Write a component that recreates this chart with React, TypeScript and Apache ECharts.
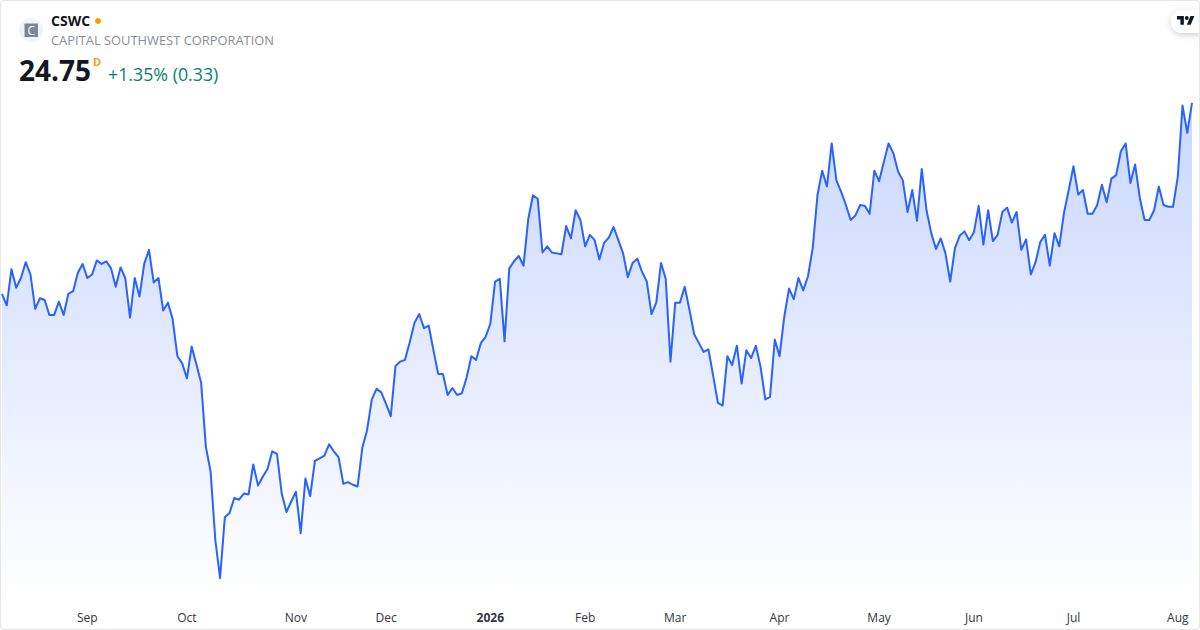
import React, { useEffect, useRef } from "react";
import * as echarts from "echarts";

const pricesAugToNov = [
  22.58, 22.45, 22.86, 22.65, 22.76, 22.94, 22.80, 22.41, 22.53, 22.51, 22.34, 22.34, 22.49, 22.34, 22.58, 22.61,
  22.82, 22.92, 22.76, 22.80, 22.96, 22.92, 22.95, 22.87, 22.66, 22.88, 22.76, 22.31, 22.76, 22.55, 22.92, 23.08,
  22.71, 22.76, 22.39, 22.48, 22.29, 21.87, 21.79, 21.62, 21.98, 21.78, 21.57, 20.84, 20.56, 19.78, 19.35, 20.04,
  20.09, 20.26, 20.24, 20.31, 20.30, 20.64, 20.40, 20.50, 20.59, 20.79, 20.76, 20.31, 20.10, 20.22, 20.33, 19.86,
];
const pricesNovToFeb = [
  20.48, 20.28, 20.68, 20.71, 20.74, 20.87, 20.79, 20.72, 20.42, 20.44, 20.41, 20.39, 20.83, 21.03, 21.38, 21.50,
  21.46, 21.33, 21.19, 21.76, 21.81, 21.83, 22.03, 22.25, 22.35, 22.19, 22.22, 21.94, 21.67, 21.67, 21.43, 21.51,
  21.43, 21.45, 21.63, 21.87, 21.83, 22.02, 22.09, 22.24, 22.72, 22.75, 22.04, 22.87, 22.95, 23.01, 22.90, 23.43,
  23.70, 23.66, 23.05, 23.12, 23.05, 23.04, 23.03, 23.35, 23.21, 23.53, 23.42, 23.12, 23.25, 23.19, 22.97,
];
const pricesFebToMay = [
  23.16, 23.22, 23.34, 23.19, 23.04, 22.77, 22.93, 22.98, 22.83, 22.72, 22.35, 22.48, 22.93, 22.75, 21.81, 22.48,
  22.48, 22.66, 22.40, 22.12, 22.02, 21.92, 21.95, 21.65, 21.34, 21.31, 21.87, 21.77, 21.99, 21.56, 21.94, 21.85,
  21.99, 21.75, 21.38, 21.41, 22.06, 21.87, 22.32, 22.64, 22.52, 22.76, 22.62, 22.78, 23.10, 23.70, 23.98, 23.80,
  24.29, 23.87, 23.74, 23.59, 23.42, 23.47, 23.59, 23.58, 23.49, 23.98, 23.86, 24.08, 24.29, 24.18, 23.97,
];
const pricesMayToAug = [
  23.87, 23.51, 23.76, 23.41, 24.00, 23.53, 23.27, 23.09, 23.21, 23.04, 22.72, 23.10, 23.24, 23.29, 23.19, 23.28,
  23.58, 23.14, 23.53, 23.18, 23.25, 23.51, 23.56, 23.39, 23.51, 23.08, 23.20, 22.80, 22.94, 23.17, 23.25, 22.90,
  23.27, 23.12, 23.50, 23.76, 24.03, 23.71, 23.76, 23.49, 23.49, 23.59, 23.82, 23.62, 23.89, 23.93, 24.20, 24.29,
  23.84, 24.05, 23.67, 23.42, 23.42, 23.53, 23.80, 23.59, 23.57, 23.57, 23.91, 24.72, 24.41, 24.75,
];
const prices = [...pricesAugToNov, ...pricesNovToFeb, ...pricesFebToMay, ...pricesMayToAug];

const tickLabels = ["Sep", "Oct", "Nov", "Dec", "2026", "Feb", "Mar", "Apr", "May", "Jun", "Jul", "Aug"];
const tickSessions = [18, 39, 62, 81, 103, 123, 142, 164, 185, 205, 226, 248];

const symbol = "CSWC";
const companyName = "CAPITAL SOUTHWEST CORPORATION";
const lastPrice = "24.75";
const changeText = "+1.35% (0.33)";

const FONT = '"Open Sans", "Noto Sans", sans-serif';

export default function App() {
  const ref = useRef<HTMLDivElement>(null);
  useEffect(() => {
    const chart = echarts.init(ref.current!, null, { renderer: "svg" });
    echarts.graphic.registerShape(
      "tvlogo",
      echarts.graphic.extendPath("M14 22H7V11H0V4h14v18zM28 22h-8l7.5-18h8L28 22zM24 8a4 4 0 1 1-8 0a4 4 0 0 1 8 0z", {})
    );
    const categories = prices.map((_, i) => {
      const k = tickSessions.indexOf(i);
      return k >= 0 ? tickLabels[k] : `s${i}`;
    });
    chart.setOption({
      animation: false,
      backgroundColor: "#ffffff",
      grid: { left: 2, right: 8, top: 0, bottom: 30 },
      xAxis: {
        type: "category",
        boundaryGap: false,
        data: categories,
        axisLine: { show: false },
        axisTick: { show: false },
        splitLine: { show: false },
        axisLabel: {
          interval: (i: number) => tickSessions.includes(i),
          hideOverlap: false,
          margin: 11,
          fontFamily: FONT,
          fontSize: 12,
          color: "#333640",
          formatter: (v: string) => (v === "2026" ? "{b|2026}" : v),
          rich: { b: { fontFamily: FONT, fontSize: 12, fontWeight: 700, color: "#333640" } },
        },
      },
      yAxis: { type: "value", min: 19.1, max: 25.92, show: false, splitLine: { show: false } },
      series: [
        {
          type: "line",
          data: prices,
          symbol: "none",
          smooth: false,
          lineStyle: { color: "#2962FF", width: 2, join: "round" },
          areaStyle: {
            color: new echarts.graphic.LinearGradient(0, 0, 0, 1, [
              { offset: 0, color: "rgba(41,98,255,0.36)" },
              { offset: 1, color: "rgba(41,98,255,0)" },
            ]),
          },
        },
      ],
      graphic: [
        { type: "circle", shape: { cx: 31, cy: 30, r: 12 }, style: { fill: "#f0f3fa" } },
        { type: "rect", shape: { x: 24.5, y: 23.5, width: 13.5, height: 13.5 }, style: { fill: "#7f8591" } },
        { type: "text", x: 31.2, y: 30.2, style: { text: "C", fill: "#ffffff", font: `400 12px ${FONT}`, align: "center", verticalAlign: "middle" } },
        { type: "text", x: 51, y: 20, style: { text: symbol, fill: "#131722", font: `700 14px ${FONT}`, verticalAlign: "middle" } },
        { type: "circle", shape: { cx: 98, cy: 21, r: 3 }, style: { fill: "#ff9800" } },
        { type: "text", x: 51, y: 40, style: { text: companyName, fill: "#8a8d96", font: `400 12.9px ${FONT}`, verticalAlign: "middle" } },
        { type: "text", x: 19, y: 70, style: { text: lastPrice, fill: "#131722", font: `700 28px ${FONT}`, verticalAlign: "middle" } },
        { type: "text", x: 93, y: 61, style: { text: "D", fill: "#ff9800", font: `700 11px ${FONT}`, verticalAlign: "middle" } },
        { type: "text", x: 108, y: 74, style: { text: changeText, fill: "#078270", font: `400 17.8px ${FONT}`, verticalAlign: "middle" } },
        {
          type: "rect",
          shape: { x: 1171, y: 10, width: 40, height: 23, r: 11.5 },
          style: { fill: "#ffffff", shadowBlur: 6, shadowColor: "rgba(0,0,0,0.18)", shadowOffsetY: 2 },
        },
        { type: "tvlogo", x: 1177, y: 14, scaleX: 0.49, scaleY: 0.49, style: { fill: "#131722" } },
      ],
    });
    return () => chart.dispose();
  }, []);
  return (
    <div style={{ position: "absolute", left: 0, top: 0, width: 1200, height: 630, overflow: "hidden", background: "#fff" }}>
      <div ref={ref} style={{ position: "absolute", left: 0, top: 0, width: 1200, height: 630 }} />
      <div style={{ position: "absolute", left: 0, top: 0, width: 1198, height: 628, border: "1px solid #e6e6e6", borderRadius: 4, pointerEvents: "none" }} />
    </div>
  );
}
